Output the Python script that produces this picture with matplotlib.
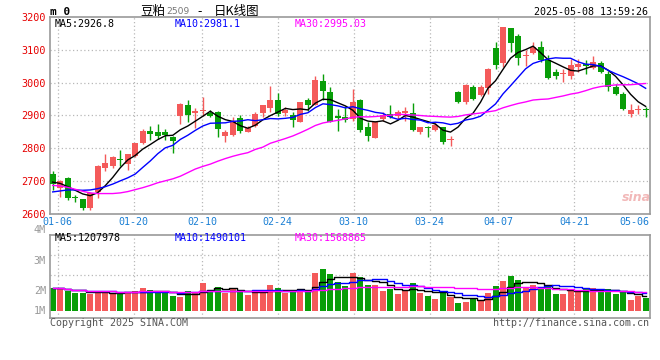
import matplotlib
matplotlib.use('Agg')
import matplotlib.pyplot as plt
import numpy as np
import pandas as pd

# daily K data, 2025-01-03 .. 2025-05-08
open_ = [2720, 2679, 2710, 2648, 2643, 2618, 2666, 2738, 2746, 2766,
         2751, 2776, 2815, 2852, 2850, 2850, 2835, 2899, 2932, 2907,
         2912, 2907, 2910, 2838, 2841, 2891, 2850, 2869, 2908, 2922,
         2948, 2907, 2902, 2881, 2948, 2933, 3004, 2973, 2899, 2896,
         2889, 2946, 2866, 2831, 2888, 2905, 2899, 2908, 2907, 2850,
         2864, 2855, 2864, 2826, 2973, 2942, 2987, 2961, 2984, 3105,
         3061, 3166, 3143, 3082, 3090, 3110, 3068, 3033, 3026, 3022,
         3048, 3056, 3045, 3061, 3028, 2987, 2964, 2905, 2917, 2920]
high = [2729, 2702, 2713, 2658, 2645, 2666, 2748, 2781, 2776, 2793,
        2782, 2817, 2858, 2869, 2873, 2858, 2838, 2938, 2946, 2922,
        2956, 2915, 2912, 2855, 2896, 2902, 2867, 2910, 2932, 2989,
        2968, 2927, 2910, 2942, 2953, 3019, 3028, 2987, 2920, 2928,
        2982, 2949, 2879, 2884, 2910, 2932, 2917, 2927, 2937, 2866,
        2869, 2879, 2866, 2838, 2976, 2997, 2992, 2994, 3045, 3123,
        3171, 3168, 3148, 3099, 3124, 3127, 3086, 3041, 3043, 3071,
        3072, 3069, 3081, 3066, 3036, 2997, 2971, 2935, 2932, 2925]
low = [2671, 2651, 2641, 2635, 2612, 2612, 2648, 2730, 2739, 2744,
       2732, 2774, 2812, 2825, 2827, 2826, 2784, 2874, 2879, 2862,
       2899, 2896, 2835, 2819, 2838, 2846, 2848, 2864, 2894, 2910,
       2899, 2899, 2866, 2879, 2912, 2933, 2946, 2879, 2853, 2879,
       2884, 2850, 2822, 2831, 2884, 2891, 2888, 2882, 2851, 2843,
       2833, 2853, 2814, 2806, 2938, 2935, 2946, 2959, 2964, 3043,
       3048, 3095, 3053, 3052, 3089, 3064, 3012, 3012, 3002, 3012,
       3033, 3028, 3041, 3030, 2976, 2961, 2918, 2896, 2905, 2896]
close = [2689, 2699, 2648, 2647, 2616, 2662, 2746, 2754, 2774, 2763,
         2782, 2815, 2851, 2844, 2838, 2841, 2822, 2935, 2902, 2912,
         2916, 2899, 2858, 2850, 2884, 2851, 2861, 2905, 2932, 2948,
         2905, 2917, 2887, 2942, 2933, 3009, 2976, 2881, 2893, 2886,
         2941, 2855, 2838, 2881, 2902, 2894, 2910, 2912, 2856, 2866,
         2861, 2872, 2818, 2828, 2942, 2994, 2951, 2987, 3043, 3055,
         3169, 3120, 3076, 3086, 3108, 3069, 3013, 3022, 3030, 3055,
         3058, 3051, 3062, 3033, 2987, 2964, 2920, 2918, 2920, 2916]
# volume in thousand lots
volume_k = [1886, 1886, 1615, 1476, 1476, 1337, 1615, 1558, 1337, 1476,
            1476, 1640, 1886, 1697, 1476, 1476, 1230, 1148, 1615, 1558,
            2296, 1697, 1968, 1476, 1829, 1615, 1287, 1476, 1476, 2107,
            1829, 1476, 1697, 1779, 1697, 3116, 3419, 3034, 2378, 2050,
            3116, 2788, 2107, 2107, 1640, 1779, 1369, 1615, 2296, 1476,
            1205, 959, 1615, 1148, 656, 738, 1009, 795, 1476, 2050,
            2460, 2870, 2517, 1886, 2107, 1886, 2107, 1369, 1369, 1779,
            1558, 1829, 1886, 1558, 1779, 1369, 1615, 877, 1230, 1066]

# first MA values (they need data from before the window)
ma5_head = [2696, 2692, 2682, 2671]
ma10_head = [2666, 2669, 2672, 2672, 2671, 2672, 2676, 2682, 2690]
ma30_head = [2686, 2684, 2680, 2674, 2668, 2663, 2661, 2661, 2661, 2663,
             2667, 2673, 2679, 2686, 2694, 2700, 2706, 2714, 2725, 2736,
             2744, 2751, 2760, 2768, 2775, 2781, 2786, 2796, 2803]

tick_idx = [1, 11, 20, 30, 40, 50, 59, 69, 77]
tick_labels = ['01-06', '01-20', '02-10', '02-24', '03-10', '03-24', '04-07', '04-21', '05-06']
price_ticks = [2600, 2700, 2800, 2900, 3000, 3100, 3200]
vol_labels = ['4M', '3M', '2M', '1M']

W, H = 660, 360
RED = '#f45a5a'
GREEN = '#089e08'
GRID = '#b8b8b8'
BORDER = '#9a9a9a'
MONO = 'DejaVu Sans Mono'
XLIM = (-0.36, 79.58)


def moving_avg(values, window, head=None):
    s = pd.Series(values, dtype=float)
    if head is None:
        return s.rolling(window, min_periods=1).mean()
    ma = s.rolling(window).mean()
    ma.iloc[:len(head)] = head
    return ma


def px_axes(fig, left, top, right, bottom):
    return fig.add_axes([left / W, 1 - bottom / H, (right - left) / W, (bottom - top) / H])


def fx(px):
    return px / W


def fy(py):
    return 1 - py / H


n = len(close)
x = np.arange(n)
o = np.array(open_, dtype=float)
c = np.array(close, dtype=float)
volume = np.array(volume_k) * 1000
up = c >= o
colors = np.where(up, RED, GREEN)

grid_x = XLIM[0] + np.array(tick_idx) * (XLIM[1] - XLIM[0]) / (n - 1)

fig = plt.figure(figsize=(W / 100, H / 100), dpi=100)
ax = px_axes(fig, 50, 17.3, 650, 213.5)
axv = px_axes(fig, 50, 234.7, 650, 318)

for a in (ax, axv):
    for sp in a.spines.values():
        sp.set_color(BORDER)
        sp.set_linewidth(1.2)
    for gx in grid_x[:-1]:
        a.axvline(gx, color=GRID, lw=0.9, ls=(0, (1, 2)), zorder=0)
    a.set_xlim(XLIM)

# ---- price panel
for p in price_ticks[1:-1]:
    ax.axhline(p, color=GRID, lw=0.9, ls=(0, (1, 2)), zorder=0)

ax.vlines(x, low, high, colors=colors, lw=1, zorder=2)
body = np.maximum(np.abs(c - o), 2.5)
ax.bar(x, body, bottom=np.minimum(o, c), width=0.8, color=colors, lw=0, zorder=3)

ax.plot(x, moving_avg(close, 5, ma5_head), color='black', lw=1, zorder=4)
ax.plot(x, moving_avg(close, 10, ma10_head), color='#0000ff', lw=1, zorder=4)
ax.plot(x, moving_avg(close, 30, ma30_head), color='#ff00ff', lw=1, zorder=4)

ax.set_ylim(price_ticks[0], price_ticks[-1])
ax.set_yticks(price_ticks)
ax.set_yticklabels([str(p) for p in price_ticks], color='#e60000',
                   fontfamily=MONO, fontsize=7.3)
ax.set_xticks(grid_x)
ax.set_xticklabels(tick_labels, color='#1a7fd4', fontfamily=MONO, fontsize=7.2)
ax.tick_params(axis='y', length=0, pad=3)
ax.tick_params(axis='x', length=0, pad=2.5)

ax.text(5 / 600, 0.964, 'MA5:2926.8', transform=ax.transAxes, color='black',
        fontfamily=MONO, fontsize=7.2, va='center')
ax.text(125 / 600, 0.964, 'MA10:2981.1', transform=ax.transAxes, color='#0000ff',
        fontfamily=MONO, fontsize=7.2, va='center')
ax.text(245 / 600, 0.964, 'MA30:2995.03', transform=ax.transAxes, color='#ff00ff',
        fontfamily=MONO, fontsize=7.2, va='center')
ax.text(0.977, 0.08, 'sina', transform=ax.transAxes, color='#f2b8b8',
        fontsize=9, fontweight='bold', style='italic', ha='center', va='center')

# ---- volume panel
for f in (0.756, 0.516):
    axv.plot([0, 1], [f, f], transform=axv.transAxes, color=GRID, lw=0.9,
             ls=(0, (1, 2)), zorder=0)
axv.bar(x, volume, width=0.8, color=colors, lw=0, zorder=2)
axv.plot(x, moving_avg(volume, 5), color='black', lw=1, drawstyle='steps-mid', zorder=3)
axv.plot(x, moving_avg(volume, 10), color='#0000ff', lw=1, drawstyle='steps-mid', zorder=3)
axv.plot(x, moving_avg(volume, 30), color='#ff00ff', lw=1, drawstyle='steps-mid', zorder=3)
axv.set_ylim(-0.6e6, 6.23e6)
axv.set_xticks([])
axv.set_yticks([])

for lab, f in zip(vol_labels, (1.056, 0.688, 0.328, 0.088)):
    axv.text(-4 / 600, f, lab, transform=axv.transAxes, color='#999999',
             fontfamily=MONO, fontsize=7.3, ha='right', va='center', clip_on=False)

axv.text(5 / 600, 0.957, 'MA5:1207978', transform=axv.transAxes, color='black',
         fontfamily=MONO, fontsize=7.2, va='center')
axv.text(125 / 600, 0.957, 'MA10:1490101', transform=axv.transAxes, color='#0000ff',
         fontfamily=MONO, fontsize=7.2, va='center')
axv.text(245 / 600, 0.957, 'MA30:1568865', transform=axv.transAxes, color='#ff00ff',
         fontfamily=MONO, fontsize=7.2, va='center')

# ---- header / footer
cjk = ['Noto Sans CJK SC', 'DejaVu Sans']
fig.text(fx(50.5), fy(12), 'm 0', fontfamily=MONO, fontweight='bold', fontsize=8,
         va='center')
fig.text(fx(140), fy(11.5), '豆粕', fontfamily=cjk, fontsize=9, va='center')
fig.text(fx(166), fy(12), '2509', fontfamily='DejaVu Sans', fontsize=6.6,
         color='#777777', va='center')
fig.text(fx(197), fy(11.5), '-', fontfamily=cjk, fontsize=9, va='center')
fig.text(fx(214), fy(11.5), '日K线图', fontfamily=cjk, fontsize=9, va='center')
fig.text(fx(648), fy(12), '2025-05-08 13:59:26', fontfamily=MONO, fontsize=7.2,
         ha='right', va='center')
fig.text(fx(50), fy(323.5), 'Copyright 2025 SINA.COM', fontfamily=MONO, fontsize=7.2,
         color='#555555', va='center')
fig.text(fx(649), fy(323.5), 'http://finance.sina.com.cn', fontfamily=MONO,
         fontsize=7.2, color='#555555', ha='right', va='center')

fig.savefig('out.png', dpi=100, facecolor='white')
